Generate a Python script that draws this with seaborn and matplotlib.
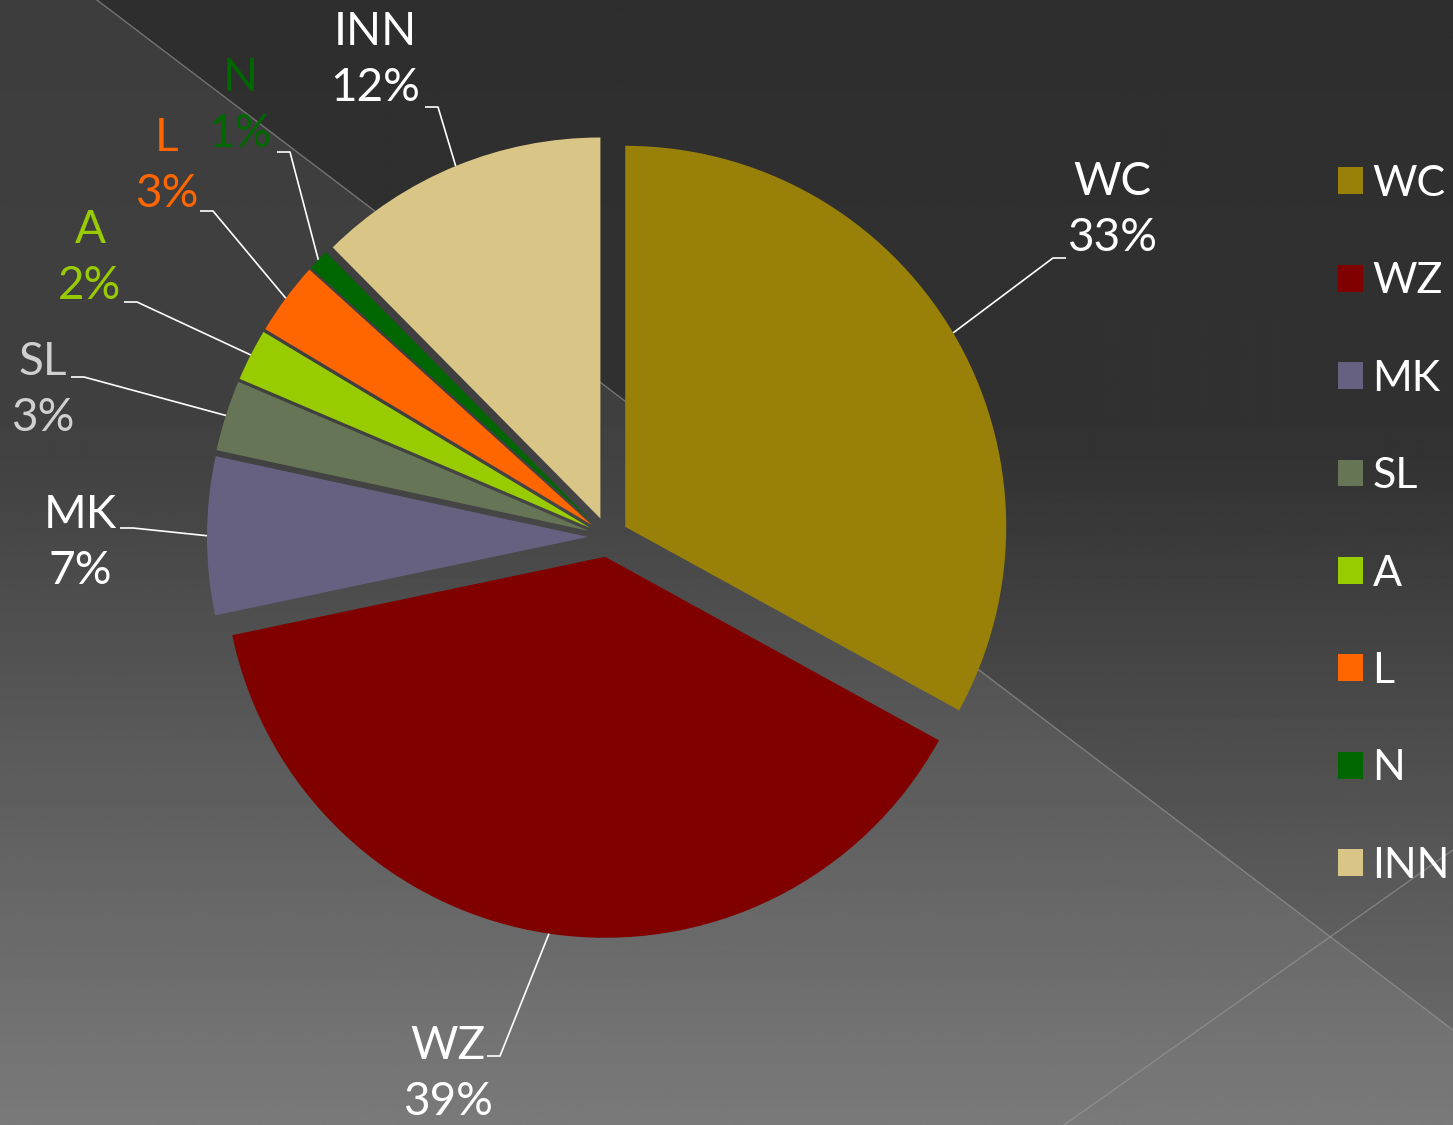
import numpy as np
import matplotlib
matplotlib.use("Agg")
import matplotlib.pyplot as plt
import seaborn as sns

# data
categories = ["WC", "WZ", "MK", "SL", "A", "L", "N", "INN"]
shares = [33.0, 38.7, 6.7, 3.0, 2.2, 3.1, 0.9, 12.4]
slice_colors = ["#998009", "#800000", "#666180", "#667556", "#99cc00", "#ff6600", "#006600", "#d9c687"]
label_colors = ["white", "white", "white", "#d0d0d0", "#99cc00", "#ff6600", "#006600", "white"]

# layout, in pixels from the top-left corner
W, H = 1453, 1125
pie_center = (608, 537)
pie_radius = 381
label_pos = [(1112, 210), (448, 1074), (80, 543), (43, 390), (90, 258), (167, 166), (240, 106), (375, 60)]
hook_pos = [(1066, 258), (487, 1056), (120, 528), (71, 377), (124, 302), (200, 211), (277, 152), (425, 107)]

sns.set_style("white")
palette = sns.color_palette(slice_colors)
plt.rcParams["font.family"] = ["Lato", "DejaVu Sans"]

fig = plt.figure(figsize=(W / 100, H / 100), dpi=100)
ax = fig.add_axes([0, 0, 1, 1])

# background: vertical grey gradient, lighter band below the diagonal
ys = np.linspace(0, H, 500)
shade = np.interp(ys, [0, 450, 1125], [46, 50, 112]) / 255
grad = np.repeat(shade[:, None], 2, axis=1)
ax.imshow(grad, cmap="gray", vmin=0, vmax=1, extent=(0, W, 0, H),
          origin="upper", aspect="auto", zorder=0)
band = np.array([(0, 0), (97, 0), (W, 1030), (W, H), (0, H)])
ax.fill(band[:, 0], H - band[:, 1], color="white", alpha=0.075, lw=0, zorder=1)
ax.plot([97, W], [H, H - 1030], color="#9a9a9a", lw=1, alpha=0.6, zorder=1)
ax.plot([1064, W], [0, H - 850], color="#9a9a9a", lw=1, alpha=0.6, zorder=1)

wedges, _ = ax.pie(shares, colors=palette, startangle=90, counterclock=False,
                   radius=pie_radius, center=(pie_center[0], H - pie_center[1]),
                   explode=[20] * len(shares), wedgeprops=dict(linewidth=0, zorder=2))

total = sum(shares)
for w, cat, s, col, (lx, ly), (hx, hy) in zip(wedges, categories, shares, label_colors, label_pos, hook_pos):
    mid = np.deg2rad((w.theta1 + w.theta2) / 2)
    ax_x = w.center[0] + w.r * np.cos(mid)
    ax_y = w.center[1] + w.r * np.sin(mid)
    bend = hx + 13 if hx > lx else hx - 13
    ax.plot([ax_x, bend, hx], [ax_y, H - hy, H - hy], color="white", lw=1.2, zorder=3,
            solid_capstyle="butt")
    ax.text(lx, H - ly, f"{cat}\n{round(s / total * 100)}%", ha="center", va="center",
            fontsize=33, color=col, linespacing=1.4, zorder=4)

leg = ax.legend(wedges, categories, loc="upper left", bbox_to_anchor=(1338 / W, 1 - 165 / H),
                frameon=False, fontsize=31, labelcolor="white", handlelength=0.58,
                handleheight=0.58, handletextpad=0.22, labelspacing=1.38,
                borderpad=0, borderaxespad=0)

ax.set_xlim(0, W)
ax.set_ylim(0, H)
ax.axis("off")

fig.savefig("out.png", dpi=100)
